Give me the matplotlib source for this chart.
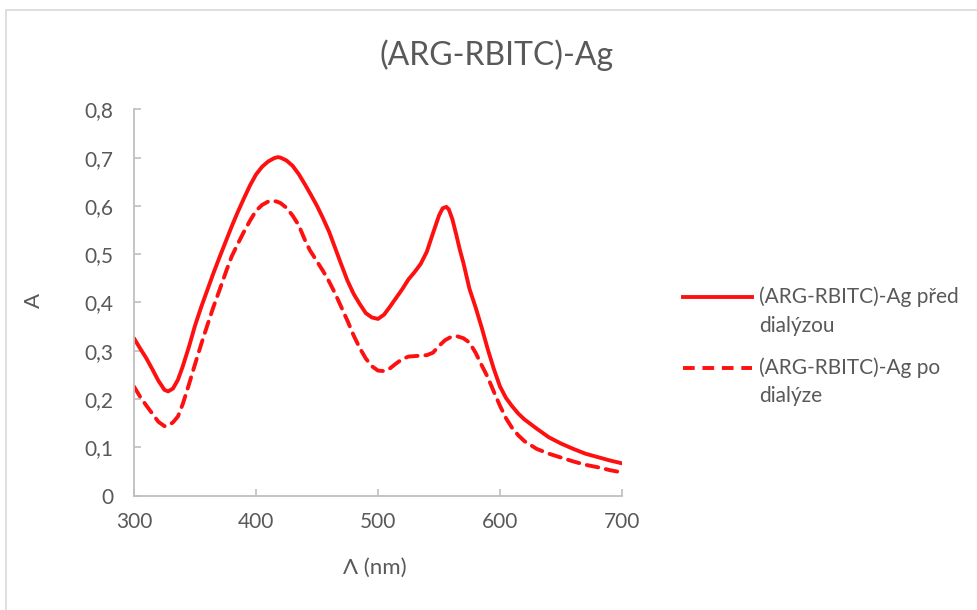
import matplotlib
matplotlib.use("Agg")
import matplotlib.pyplot as plt
from matplotlib.lines import Line2D
from matplotlib.patches import Rectangle
from matplotlib.ticker import FuncFormatter, MultipleLocator

plt.rcParams['font.family'] = ['Lato', 'DejaVu Sans']

# Absorption spectra, wavelength in nm
wl_pred = [300, 305, 310, 315, 320, 325, 328, 332, 336, 340, 345, 350, 355, 360,
           365, 370, 375, 380, 385, 390, 395, 400, 405, 410, 415, 418, 420, 425,
           430, 435, 440, 445, 450, 455, 460, 465, 470, 475, 480, 485, 490, 495,
           500, 505, 510, 515, 520, 525, 530, 535, 540, 545, 550, 553, 556, 558,
           561, 564, 567, 570, 575, 580, 585, 590, 595, 600, 605, 610, 615, 620,
           630, 640, 650, 660, 670, 680, 690, 700]
a_pred = [0.326, 0.305, 0.285, 0.262, 0.238, 0.219, 0.216, 0.222, 0.240, 0.268,
          0.308, 0.352, 0.390, 0.425, 0.460, 0.493, 0.525, 0.557, 0.587, 0.615,
          0.642, 0.665, 0.681, 0.692, 0.699, 0.701, 0.700, 0.694, 0.683, 0.666,
          0.645, 0.623, 0.600, 0.574, 0.546, 0.512, 0.478, 0.445, 0.418, 0.397,
          0.378, 0.369, 0.366, 0.375, 0.392, 0.410, 0.428, 0.448, 0.463, 0.480,
          0.505, 0.543, 0.580, 0.595, 0.598, 0.593, 0.572, 0.542, 0.510, 0.482,
          0.428, 0.390, 0.348, 0.303, 0.262, 0.226, 0.202, 0.185, 0.170, 0.158,
          0.139, 0.121, 0.108, 0.097, 0.087, 0.080, 0.073, 0.067]

wl_po = [300, 305, 310, 315, 320, 325, 328, 332, 336, 340, 345, 350, 355, 360,
         365, 370, 376, 380, 385, 390, 395, 400, 405, 410, 413, 417, 420, 425,
         430, 435, 440, 444, 450, 455, 460, 465, 470, 475, 480, 485, 490, 495,
         500, 505, 510, 515, 520, 525, 530, 535, 540, 545, 550, 555, 560, 565,
         570, 575, 580, 585, 590, 595, 600, 605, 610, 615, 620, 630, 640, 650,
         660, 670, 680, 690, 700]
a_po = [0.226, 0.205, 0.187, 0.170, 0.153, 0.144, 0.145, 0.152, 0.164, 0.190,
        0.230, 0.272, 0.313, 0.352, 0.390, 0.425, 0.468, 0.495, 0.521, 0.546,
        0.569, 0.590, 0.602, 0.609, 0.611, 0.609, 0.606, 0.596, 0.580, 0.560,
        0.530, 0.509, 0.485, 0.465, 0.443, 0.418, 0.390, 0.362, 0.332, 0.306,
        0.284, 0.268, 0.259, 0.258, 0.264, 0.274, 0.283, 0.288, 0.289, 0.290,
        0.291, 0.296, 0.310, 0.322, 0.329, 0.330, 0.326, 0.317, 0.296, 0.270,
        0.245, 0.215, 0.186, 0.160, 0.140, 0.125, 0.113, 0.097, 0.087, 0.079,
        0.071, 0.064, 0.059, 0.053, 0.048]

label_pred = "(ARG-RBITC)-Ag před\ndialýzou"
label_po = "(ARG-RBITC)-Ag po\ndialýze"

W, H = 977, 610
fig = plt.figure(figsize=(W / 100, H / 100), dpi=100)
fig.patch.set_facecolor("white")

# chart-area frame
fig.add_artist(Rectangle((6 / W, -0.5), 2.0, 0.5 + 1 - 10 / H,
                         transform=fig.transFigure, fill=False,
                         edgecolor="#d9d9d9", lw=1.2))

ax = fig.add_axes([134 / W, 1 - 495.7 / H, (622 - 134) / W, (495.7 - 109.3) / H])

red = "#ff1010"
lw = 2.8
dash = (3.0, 2.0)
ax.plot(wl_pred, a_pred, color=red, lw=lw, solid_capstyle="round",
        solid_joinstyle="round")
ax.plot(wl_po, a_po, color=red, lw=lw, dashes=dash, dash_capstyle="round")

ax.set_xlim(300, 700)
ax.set_ylim(0, 0.8)
ax.xaxis.set_major_locator(MultipleLocator(100))
ax.yaxis.set_major_locator(MultipleLocator(0.1))
ax.yaxis.set_major_formatter(FuncFormatter(
    lambda v, p: "0" if abs(v) < 1e-9 else f"{v:.1f}".replace(".", ",")))

for s in ["top", "right"]:
    ax.spines[s].set_visible(False)
for s in ["left", "bottom"]:
    ax.spines[s].set_color("#bfbfbf")
    ax.spines[s].set_linewidth(1.3)

grey = "#595959"
ax.tick_params(axis="both", direction="in", length=5, width=1.2,
               color="#bfbfbf", labelcolor=grey, labelsize=15)
ax.tick_params(axis="y", pad=15)
ax.tick_params(axis="x", pad=12)

fig.text(34 / W, 1 - 300 / H, "A", rotation=90, ha="center", va="center",
         color=grey, fontsize=16)
fig.text(375 / W, 1 - 568 / H, "Λ (nm)", ha="center", va="center",
         color=grey, fontsize=16)
fig.text(497 / W, 1 - 55 / H, "(ARG-RBITC)-Ag", ha="center", va="center",
         color=grey, fontsize=23)

# legend
for yy, label, style in [(297, label_pred, {}),
                         (368, label_po, {"dashes": dash})]:
    fig.add_artist(Line2D([683 / W, 752 / W], [1 - yy / H, 1 - yy / H],
                          transform=fig.transFigure, color=red, lw=lw, **style))
    for i, line in enumerate(label.split("\n")):
        fig.text(759 / W, 1 - (yy + 28.5 * i) / H, line, ha="left", va="center",
                 color=grey, fontsize=15)

fig.savefig("out.png", dpi=100)
